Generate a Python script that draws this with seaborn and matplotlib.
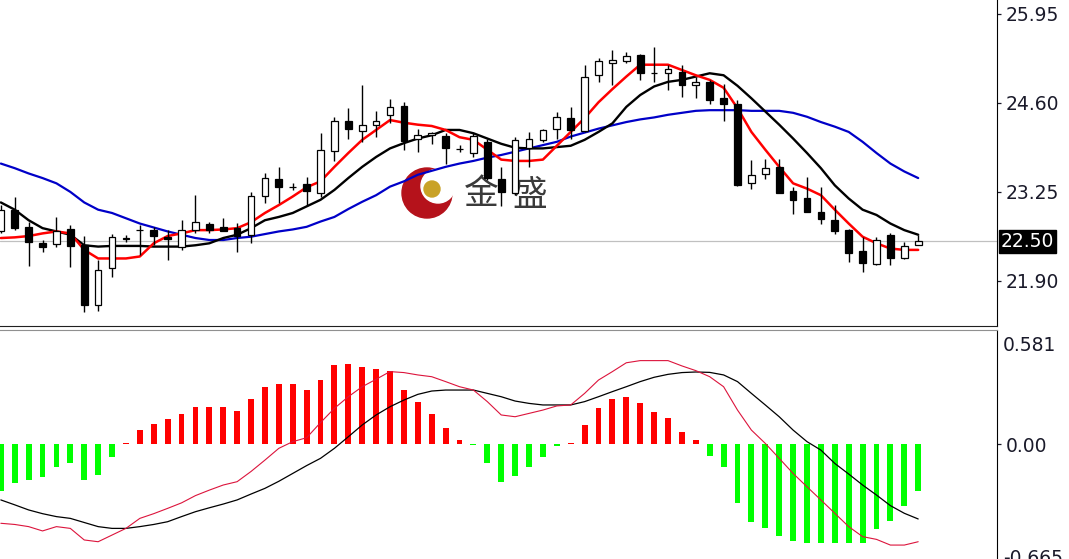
import numpy as np
import matplotlib
matplotlib.use("Agg")
import matplotlib.pyplot as plt
from matplotlib.patches import Circle
import seaborn as sns

# candles (daily OHLC)
opens = [22.65, 22.98, 22.72, 22.48, 22.46, 22.68, 22.44, 21.53, 22.09, 22.54,
         22.67, 22.67, 22.57, 22.41, 22.67, 22.77, 22.71, 22.70, 22.60, 23.19,
         23.44, 23.33, 23.37, 23.23, 23.87, 24.33, 24.17, 24.26, 24.42, 24.55,
         24.06, 24.11, 24.10, 23.90, 23.84, 24.01, 23.44, 23.23, 23.91, 24.04,
         24.20, 24.37, 24.18, 25.02, 25.20, 25.23, 25.33, 25.06, 25.06, 25.07,
         24.87, 24.92, 24.68, 24.59, 23.38, 23.52, 23.63, 23.26, 23.16, 22.95,
         22.82, 22.67, 22.35, 22.16, 22.60, 22.24, 22.45]
highs = [23.05, 23.18, 22.80, 22.52, 22.87, 22.75, 22.58, 22.22, 22.61, 22.60,
         22.75, 22.72, 22.67, 22.82, 23.20, 22.80, 22.85, 22.78, 23.25, 23.54,
         23.63, 23.38, 23.48, 24.14, 24.39, 24.52, 24.87, 24.48, 24.66, 24.62,
         24.21, 24.16, 24.14, 23.96, 24.14, 24.06, 23.63, 24.09, 24.16, 24.21,
         24.47, 24.54, 25.18, 25.28, 25.40, 25.38, 25.35, 25.45, 25.18, 25.18,
         25.00, 24.95, 24.89, 24.64, 23.73, 23.75, 23.75, 23.33, 23.47, 23.33,
         23.05, 22.68, 22.57, 22.57, 22.62, 22.49, 22.59]
lows = [22.63, 22.67, 22.12, 22.34, 22.42, 22.11, 21.42, 21.45, 21.96, 22.49,
        22.29, 22.44, 22.21, 22.37, 22.62, 22.62, 22.65, 22.34, 22.48, 23.08,
        23.08, 23.28, 23.03, 23.18, 23.72, 24.06, 24.01, 24.09, 24.29, 23.89,
        23.85, 23.98, 23.68, 23.86, 23.78, 23.43, 23.03, 23.20, 23.63, 24.01,
        24.06, 24.06, 24.16, 24.92, 24.87, 25.20, 24.95, 24.92, 24.80, 24.69,
        24.67, 24.59, 24.32, 23.34, 23.29, 23.44, 23.23, 22.91, 22.94, 22.76,
        22.61, 22.19, 22.04, 22.14, 22.14, 22.23, 22.44]
closes = [22.98, 22.70, 22.49, 22.41, 22.65, 22.43, 21.53, 22.07, 22.56, 22.55,
          22.67, 22.58, 22.54, 22.67, 22.80, 22.67, 22.66, 22.58, 23.19, 23.46,
          23.33, 23.33, 23.27, 23.89, 24.33, 24.20, 24.26, 24.33, 24.54, 24.02,
          24.11, 24.14, 23.91, 23.90, 24.10, 23.46, 23.25, 24.04, 24.06, 24.19,
          24.38, 24.19, 25.00, 25.24, 25.25, 25.31, 25.06, 25.06, 25.11, 24.87,
          24.92, 24.64, 24.59, 23.36, 23.51, 23.61, 23.24, 23.13, 22.94, 22.84,
          22.65, 22.33, 22.17, 22.52, 22.24, 22.43, 22.50]

# moving averages
ma_fast = [22.55, 22.56, 22.58, 22.62, 22.65, 22.62, 22.37, 22.24, 22.24, 22.24,
           22.27, 22.47, 22.58, 22.62, 22.67, 22.67, 22.68, 22.70, 22.79, 22.93,
           23.05, 23.18, 23.32, 23.41, 23.63, 23.84, 24.04, 24.19, 24.34, 24.30,
           24.27, 24.25, 24.19, 24.08, 24.04, 23.89, 23.74, 23.72, 23.72, 23.74,
           23.95, 24.16, 24.37, 24.61, 24.81, 25.00, 25.18, 25.18, 25.18, 25.10,
           25.02, 24.95, 24.83, 24.52, 24.16, 23.89, 23.63, 23.38, 23.30, 23.20,
           22.98, 22.77, 22.57, 22.47, 22.39, 22.37, 22.37]
ma_mid = [23.09, 22.98, 22.82, 22.70, 22.65, 22.60, 22.44, 22.42, 22.43, 22.43,
          22.43, 22.42, 22.42, 22.42, 22.44, 22.47, 22.55, 22.60, 22.70, 22.82,
          22.87, 22.93, 23.03, 23.13, 23.28, 23.46, 23.63, 23.78, 23.91, 23.99,
          24.06, 24.11, 24.19, 24.19, 24.14, 24.06, 23.98, 23.92, 23.91, 23.91,
          23.93, 23.95, 24.04, 24.16, 24.29, 24.54, 24.72, 24.85, 24.92, 24.95,
          25.00, 25.05, 25.02, 24.86, 24.67, 24.47, 24.27, 24.06, 23.84, 23.61,
          23.35, 23.15, 22.98, 22.90, 22.77, 22.67, 22.60]
ma_slow = [23.68, 23.61, 23.53, 23.46, 23.38, 23.25, 23.09, 22.98, 22.93, 22.85,
           22.77, 22.71, 22.65, 22.60, 22.55, 22.52, 22.52, 22.55, 22.57, 22.61,
           22.65, 22.68, 22.72, 22.80, 22.87, 22.99, 23.10, 23.20, 23.33, 23.41,
           23.51, 23.57, 23.63, 23.68, 23.72, 23.77, 23.81, 23.86, 23.91, 23.96,
           24.01, 24.09, 24.15, 24.21, 24.26, 24.31, 24.35, 24.38, 24.42, 24.45,
           24.48, 24.49, 24.49, 24.49, 24.48, 24.48, 24.48, 24.45, 24.39, 24.31,
           24.24, 24.16, 24.01, 23.84, 23.68, 23.56, 23.46]

# MACD window
osma = [-0.238, -0.197, -0.183, -0.170, -0.116, -0.095, -0.183, -0.158, -0.068, 0.005,
        0.071, 0.102, 0.126, 0.153, 0.187, 0.187, 0.187, 0.167, 0.229, 0.291,
        0.304, 0.304, 0.277, 0.326, 0.401, 0.408, 0.394, 0.381, 0.371, 0.275,
        0.216, 0.153, 0.083, 0.020, -0.007, -0.099, -0.192, -0.161, -0.116, -0.065,
        -0.008, 0.005, 0.095, 0.185, 0.228, 0.241, 0.207, 0.165, 0.131, 0.063,
        0.020, -0.061, -0.116, -0.302, -0.399, -0.427, -0.467, -0.494, -0.506, -0.503,
        -0.506, -0.506, -0.506, -0.433, -0.392, -0.314, -0.240]
macd_main = [-0.285, -0.310, -0.336, -0.355, -0.370, -0.379, -0.400, -0.421, -0.430, -0.430,
             -0.421, -0.410, -0.396, -0.370, -0.345, -0.325, -0.306, -0.285, -0.255, -0.226,
             -0.190, -0.150, -0.110, -0.073, -0.022, 0.037, 0.097, 0.148, 0.190, 0.224,
             0.253, 0.270, 0.275, 0.275, 0.275, 0.258, 0.241, 0.219, 0.207, 0.199,
             0.199, 0.199, 0.216, 0.241, 0.267, 0.292, 0.318, 0.340, 0.355, 0.364,
             0.367, 0.365, 0.352, 0.318, 0.258, 0.199, 0.139, 0.071, 0.012, -0.031,
             -0.099, -0.153, -0.209, -0.260, -0.314, -0.353, -0.382]
macd_signal = [-0.404, -0.410, -0.421, -0.443, -0.421, -0.430, -0.489, -0.498, -0.464, -0.430,
               -0.379, -0.355, -0.328, -0.300, -0.263, -0.235, -0.209, -0.192, -0.140, -0.082,
               -0.022, 0.012, 0.032, 0.109, 0.182, 0.241, 0.292, 0.330, 0.369, 0.364,
               0.352, 0.343, 0.318, 0.292, 0.275, 0.216, 0.148, 0.139, 0.156, 0.173,
               0.194, 0.199, 0.258, 0.326, 0.369, 0.414, 0.425, 0.425, 0.425, 0.398,
               0.374, 0.343, 0.292, 0.173, 0.071, 0.003, -0.073, -0.150, -0.218, -0.285,
               -0.353, -0.421, -0.472, -0.486, -0.515, -0.515, -0.498]

price_ticks = [25.95, 24.60, 23.25, 21.90]
last_price = 22.50
macd_max, macd_min = 0.581, -0.665

sns.set_style("white")
plt.rcParams['font.family'] = ['DejaVu Sans']

W, H = 1069, 559
fig = plt.figure(figsize=(W / 100, H / 100), dpi=100)
fig.patch.set_facecolor('white')

idx = np.arange(len(opens))
o, h, l, c = map(np.array, (opens, highs, lows, closes))
xlim = (-0.06, 71.67)
txt_color = '#1a1a2a'
fs = 13.5

# watermark layer (behind everything)
bg = fig.add_axes([0, 0, 1, 1], zorder=-1)
bg.set_xlim(0, W)
bg.set_ylim(H, 0)
bg.axis('off')
bg.add_patch(Circle((427, 193), 25, color='#b5121b'))
bg.add_patch(Circle((438, 186), 17, color='white'))
bg.add_patch(Circle((432, 189), 8, color='#c9a227'))
for ch, xc in (('金', 481), ('盛', 530)):
    bg.text(xc, 195, ch, ha='center', va='center', fontsize=25, color='#3a3a3a',
            family=['Noto Sans CJK SC', 'DejaVu Sans'])

# ---- price window
ax = fig.add_axes([0, 1 - 326 / H, 997 / W, 326 / H])
ax.patch.set_alpha(0)
ax.axhline(last_price, color='#c0c0c0', lw=0.9, zorder=1)
sns.lineplot(x=idx, y=ma_slow, ax=ax, color='#0000c8', lw=1.6, zorder=2)
sns.lineplot(x=idx, y=ma_mid, ax=ax, color='black', lw=1.7, zorder=3)
sns.lineplot(x=idx, y=ma_fast, ax=ax, color='#ff0000', lw=1.8, zorder=4)
ax.vlines(idx, l, h, color='black', lw=1.0, zorder=5)
body_col = np.where(c < o, 'black', 'white')
ax.bar(idx, np.abs(c - o), bottom=np.minimum(o, c), width=0.48,
       color=body_col, edgecolor='black', linewidth=0.9, zorder=6)
ax.set_xlim(*xlim)
ax.set_ylim(21.215, 26.162)
ax.set_xticks([])
ax.yaxis.tick_right()
ax.set_yticks(price_ticks)
ax.set_yticklabels([f'{v:.2f}' for v in price_ticks])
ax.tick_params(axis='y', direction='out', length=3, width=0.9, pad=3,
               labelsize=fs, colors=txt_color)
for s in ('top', 'left'):
    ax.spines[s].set_visible(False)
ax.spines['right'].set_color('black')
ax.spines['bottom'].set_color('#202020')
ax.annotate(f'{last_price:.2f}', xy=(1, last_price), xycoords=('axes fraction', 'data'),
            xytext=(4, 0), textcoords='offset pixels', ha='left', va='center',
            fontsize=fs, color='white', annotation_clip=False,
            bbox=dict(boxstyle='square,pad=0.1', fc='black', ec='black'))

# ---- MACD window
ax2 = fig.add_axes([0, 1 - 574.5 / H, 997 / W, 244.5 / H])
ax2.patch.set_alpha(0)
hist_col = np.where(np.array(osma) >= 0, '#ff0000', '#00ff00')
ax2.bar(idx, osma, width=0.42, color=hist_col, linewidth=0, zorder=2)
sns.lineplot(x=idx, y=macd_main, ax=ax2, color='black', lw=0.9, zorder=3)
sns.lineplot(x=idx, y=macd_signal, ax=ax2, color='#dc143c', lw=0.8, zorder=4)
ax2.set_xlim(*xlim)
ax2.set_ylim(macd_min, macd_max)
ax2.set_xticks([])
ax2.yaxis.tick_right()
ax2.set_yticks([0.0])
ax2.set_yticklabels(['0.00'])
ax2.tick_params(axis='y', direction='out', length=3, width=0.9, pad=3,
                labelsize=fs, colors=txt_color)
for s in ('bottom', 'left'):
    ax2.spines[s].set_visible(False)
ax2.spines['top'].set_color('#909090')
ax2.spines['right'].set_color('black')
ax2.annotate(f'{macd_max:.3f}', xy=(1, macd_max), xycoords=('axes fraction', 'data'),
             xytext=(6, -6), textcoords='offset pixels', ha='left', va='top',
             fontsize=fs, color=txt_color, annotation_clip=False)
ax2.annotate(f'{macd_min:.3f}', xy=(1, macd_min), xycoords=('axes fraction', 'data'),
             xytext=(6, 6), textcoords='offset pixels', ha='left', va='bottom',
             fontsize=fs, color=txt_color, annotation_clip=False)

fig.savefig('out.png', dpi=100, facecolor='white')
